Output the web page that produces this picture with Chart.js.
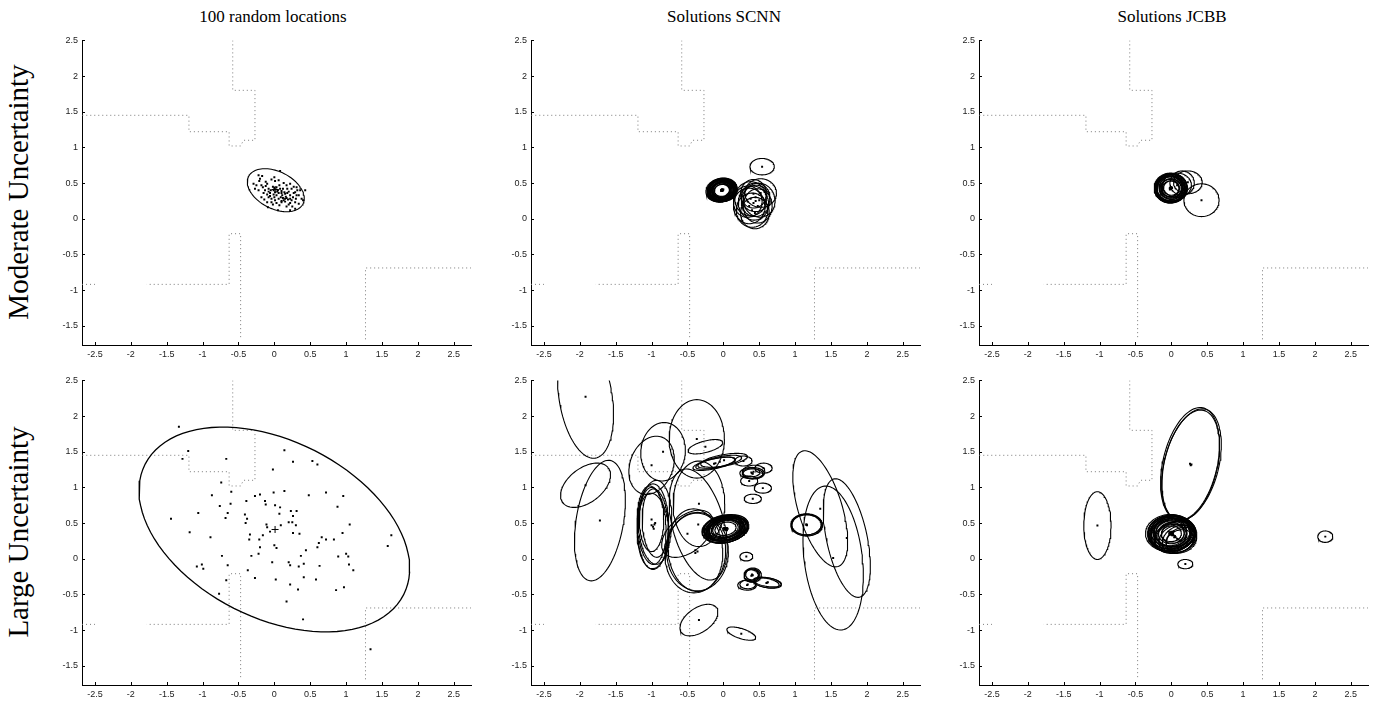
<!DOCTYPE html>
<html>
<head>
<meta charset="utf-8">
<script src="https://cdn.jsdelivr.net/npm/chart.js@4.4.1/dist/chart.umd.min.js"></script>
<style>
  html, body { margin: 0; padding: 0; background: #fff; }
  body { width: 1383px; height: 702px; overflow: hidden; position: relative; }
  canvas.panel { position: absolute; }
  .title { position: absolute; font-family: "Liberation Serif", serif; font-size: 17px; color: #000;
           white-space: nowrap; transform: translate(-50%, -50%); }
  .rowlab { position: absolute; font-family: "Liberation Serif", serif; font-size: 29px; color: #000;
            white-space: nowrap; transform: translate(-50%, -50%) rotate(-90deg); }
</style>
</head>
<body>
<div class="title" style="left:273px; top:17px;">100 random locations</div>
<div class="title" style="left:724px; top:17px;">Solutions SCNN</div>
<div class="title" style="left:1172px; top:17px;">Solutions JCBB</div>
<div class="rowlab" style="left:18px; top:192px;">Moderate Uncertainty</div>
<div class="rowlab" style="left:18px; top:532px;">Large Uncertainty</div>

<canvas class="panel" id="p11"></canvas>
<canvas class="panel" id="p12"></canvas>
<canvas class="panel" id="p13"></canvas>
<canvas class="panel" id="p21"></canvas>
<canvas class="panel" id="p22"></canvas>
<canvas class="panel" id="p23"></canvas>

<script>
// ---- axis ticks ----
const xTicks = [-2.5, -2, -1.5, -1, -0.5, 0, 0.5, 1, 1.5, 2, 2.5];
const yTicks = [-1.5, -1, -0.5, 0, 0.5, 1, 1.5, 2, 2.5];
const xRange = [-2.68, 2.74];
const yRange = [-1.77, 2.5];

// ---- map walls (polylines) ----
const walls = [
  [[-0.58, 2.5], [-0.58, 1.8], [-0.27, 1.8], [-0.27, 1.1], [-0.43, 1.1], [-0.47, 1.02],
   [-0.63, 1.02], [-0.63, 1.22], [-1.19, 1.22], [-1.19, 1.45], [-2.68, 1.45]],
  [[-0.47, -1.66], [-0.47, -0.21], [-0.63, -0.21], [-0.63, -0.92], [-1.78, -0.92]],
  [[-2.68, -0.92], [-2.5, -0.92]],
  [[1.27, -1.69], [1.27, -0.69], [2.74, -0.69]]
];

// ---- true robot location ----
const trueLocation = [0.01, 0.41];

// ---- 100 random locations, moderate uncertainty ----
const moderateSamples = [
  [0.08,0.67],[-0.22,0.61],[-0.17,0.60],[-0.29,0.49],[-0.21,0.53],[-0.18,0.47],[-0.10,0.49],[-0.04,0.55],
  [0.01,0.53],[0.06,0.54],[0.13,0.50],[0.17,0.47],[0.22,0.49],[0.27,0.45],[0.31,0.44],[-0.22,0.40],
  [-0.13,0.40],[-0.08,0.42],[-0.05,0.40],[-0.01,0.40],[0.01,0.37],[0.05,0.40],[0.08,0.42],[0.10,0.39],
  [0.14,0.37],[0.20,0.38],[0.24,0.42],[0.29,0.37],[0.36,0.40],[0.43,0.40],[-0.15,0.36],[-0.10,0.34],
  [-0.06,0.36],[-0.01,0.34],[0.03,0.33],[0.06,0.36],[0.11,0.33],[0.15,0.35],[0.22,0.33],[0.26,0.30],
  [0.31,0.33],[0.38,0.28],[-0.18,0.30],[-0.08,0.30],[-0.04,0.28],[0.01,0.26],[0.06,0.28],[0.13,0.26],
  [0.17,0.29],[0.24,0.26],[0.29,0.23],[-0.10,0.23],[-0.04,0.23],[0.03,0.22],[0.10,0.23],[0.15,0.24],
  [0.22,0.22],[0.34,0.21],[-0.09,0.16],[0.05,0.12],[0.22,0.12],[0.29,0.14],[0.40,0.26],[-0.20,0.56],
  [-0.27,0.42],[-0.02,0.45],[0.03,0.44],[0.07,0.47],[-0.12,0.46],[0.09,0.30],[0.12,0.29],[0.16,0.31],
  [0.19,0.27],[0.00,0.30],[-0.06,0.32],[0.04,0.38],[0.12,0.42],[-0.16,0.44],[0.18,0.42],[0.27,0.36],
  [-0.25,0.47],[-0.12,0.52],[0.00,0.58],[0.10,0.25],[0.20,0.20],[0.25,0.17],[-0.14,0.27],[0.34,0.33],
  [0.30,0.28],[0.07,0.19],[-0.02,0.20],[0.17,0.17],[0.32,0.40],[0.18,0.36],[0.02,0.41],[-0.08,0.38],
  [0.15,0.28],[0.22,0.28],[0.10,0.36],[0.00,0.43]
];
// [cx, cy, semi-axis 1, semi-axis 2, rotation deg]
const moderateCov = [0.02, 0.40, 0.425, 0.26, -27];

// ---- 100 random locations, large uncertainty ----
const largeSamples = [
  [-1.33,1.85],[-1.20,1.51],[-1.28,1.40],[-0.67,1.40],[0.14,1.52],[0.26,1.36],[0.53,1.37],[0.60,1.32],
  [-0.02,1.25],[-0.74,1.07],[-0.60,0.94],[-0.87,0.89],[-0.27,0.88],[-0.20,0.90],[-0.01,0.93],[0.14,0.95],
  [0.48,0.89],[0.72,0.93],[0.96,0.88],[-0.39,0.81],[-0.13,0.81],[-0.12,0.76],[-0.61,0.77],[-0.76,0.74],
  [0.01,0.75],[0.08,0.72],[0.88,0.73],[-1.06,0.64],[-0.65,0.64],[-0.41,0.62],[0.07,0.63],[0.23,0.67],
  [0.31,0.67],[0.26,0.60],[-0.68,0.57],[-0.38,0.56],[-1.44,0.56],[-0.40,0.50],[-0.11,0.48],[-0.10,0.44],
  [0.20,0.51],[0.25,0.51],[0.30,0.47],[1.05,0.48],[-0.06,0.38],[-0.34,0.34],[-0.16,0.33],[0.26,0.36],
  [0.35,0.35],[0.95,0.36],[-1.18,0.37],[-0.89,0.30],[-0.35,0.27],[-0.21,0.27],[0.66,0.30],[0.72,0.27],
  [0.83,0.27],[0.62,0.22],[0.00,0.19],[0.03,0.15],[-0.20,0.16],[0.60,0.16],[0.44,0.12],[1.58,0.18],
  [1.63,0.33],[-0.22,0.07],[-0.32,0.04],[-0.73,0.04],[0.37,0.04],[0.89,0.03],[1.00,0.07],[1.03,0.03],
  [-0.03,-0.05],[0.20,-0.05],[0.22,-0.09],[0.41,-0.07],[0.34,-0.11],[0.63,-0.10],[-0.65,-0.09],[-1.08,-0.11],
  [-1.01,-0.08],[-0.99,-0.14],[1.04,-0.08],[1.10,-0.16],[-0.37,-0.16],[-0.27,-0.27],[0.41,-0.26],[-0.67,-0.30],
  [0.02,-0.29],[0.58,-0.29],[0.22,-0.36],[0.33,-0.43],[0.86,-0.44],[0.97,-0.40],[-0.77,-0.49],[0.17,-0.60],
  [0.40,-0.85],[1.34,-1.27],[0.09,0.47]
];
const largeCov = [0.00, 0.41, 2.02, 1.24, -27];

// ---- SCNN solutions, moderate uncertainty ----
const scnnModerate = [
  [-0.02,0.40,0.21,0.16,10],[-0.02,0.40,0.20,0.155,10],[-0.01,0.40,0.19,0.15,8],[-0.02,0.41,0.18,0.14,10],
  [-0.03,0.40,0.17,0.135,12],[-0.02,0.39,0.16,0.13,10],[-0.01,0.40,0.15,0.12,8],[-0.02,0.40,0.14,0.115,10],
  [-0.02,0.41,0.13,0.105,10],[-0.03,0.40,0.12,0.10,12],[-0.02,0.39,0.115,0.09,10],[-0.01,0.40,0.20,0.16,5],
  [-0.03,0.39,0.20,0.15,15],[0.00,0.41,0.19,0.15,10],[-0.02,0.40,0.175,0.14,6],[-0.02,0.40,0.165,0.125,14],
  [-0.01,0.395,0.155,0.125,10],[-0.02,0.405,0.145,0.11,10],[-0.02,0.40,0.185,0.145,10],[-0.02,0.40,0.125,0.10,6],
  [-0.03,0.40,0.215,0.165,12],[-0.01,0.41,0.205,0.16,8],[-0.02,0.39,0.195,0.15,12],[-0.02,0.40,0.105,0.085,10],
  [0.54,0.73,0.17,0.115,0],
  [0.38,0.28,0.22,0.24,0],[0.42,0.22,0.21,0.24,10],[0.45,0.25,0.20,0.22,-10],[0.36,0.18,0.22,0.25,5],
  [0.48,0.18,0.20,0.24,0],[0.40,0.12,0.22,0.24,0],[0.45,0.30,0.20,0.20,0],[0.50,0.26,0.22,0.24,15],
  [0.34,0.24,0.20,0.22,-5],[0.42,0.35,0.18,0.20,0],[0.44,0.08,0.20,0.22,0],[0.52,0.36,0.22,0.20,0]
];

// ---- JCBB solutions, moderate uncertainty ----
const jcbbModerate = [
  [-0.01,0.43,0.23,0.21,0],[0.00,0.43,0.22,0.20,10],[-0.02,0.42,0.21,0.20,0],[0.00,0.44,0.20,0.19,5],
  [-0.01,0.42,0.19,0.18,0],[-0.02,0.43,0.18,0.17,10],[0.00,0.43,0.17,0.16,0],[-0.01,0.44,0.16,0.15,5],
  [-0.01,0.42,0.15,0.14,0],[0.00,0.43,0.14,0.13,0],[-0.02,0.43,0.13,0.12,5],[-0.01,0.42,0.12,0.11,0],
  [0.01,0.43,0.21,0.19,15],[-0.01,0.43,0.20,0.20,0],[0.00,0.44,0.22,0.19,5],[-0.02,0.41,0.18,0.18,0],
  [-0.01,0.43,0.225,0.205,5],[-0.01,0.425,0.195,0.185,0],[0.00,0.43,0.11,0.10,0],
  [0.08,0.47,0.20,0.17,0],[0.15,0.50,0.17,0.17,0],[0.23,0.51,0.20,0.16,0],[0.42,0.26,0.245,0.23,0]
];

// ---- SCNN solutions, large uncertainty ----
const scnnLarge = [
  [-1.92,2.27,0.37,0.87,9],[-1.92,1.03,0.40,0.24,38],[-1.72,0.535,0.33,0.855,-9.5],
  [-1.00,1.31,0.30,0.42,-20],[-0.84,1.50,0.31,0.41,-5],
  [-0.37,1.68,0.385,0.55,0],[-0.25,1.57,0.25,0.08,15],
  [-0.13,1.33,0.30,0.07,12],[-0.11,1.34,0.28,0.065,12],[0.01,1.38,0.33,0.08,10],[-0.05,1.36,0.31,0.07,11],
  [0.28,1.37,0.12,0.07,0],
  [0.40,1.20,0.17,0.08,0],[0.41,1.19,0.14,0.07,0],[0.39,1.21,0.12,0.06,0],[0.42,1.22,0.16,0.09,5],
  [0.56,1.27,0.12,0.07,0],[0.36,1.09,0.12,0.07,0],[0.55,0.99,0.12,0.07,0],[0.41,0.84,0.12,0.065,0],
  [-1.00,0.47,0.20,0.55,3],[-0.98,0.45,0.22,0.60,0],[-0.95,0.50,0.18,0.48,3],[-0.97,0.42,0.21,0.50,5],
  [-1.00,0.55,0.17,0.45,0],[-0.96,0.48,0.24,0.62,-3],
  [-0.34,0.77,0.36,0.60,0],[-0.39,0.12,0.38,0.58,5],[-0.39,0.08,0.42,0.56,-5],[-0.36,0.10,0.43,0.55,0],
  [-0.50,0.35,0.42,0.25,40],[-0.35,0.48,0.36,0.80,15],
  [0.03,0.42,0.33,0.19,12],[0.04,0.41,0.31,0.18,14],[0.02,0.43,0.30,0.18,10],[0.03,0.42,0.29,0.17,12],
  [0.05,0.40,0.30,0.17,15],[0.01,0.43,0.28,0.17,10],[0.03,0.42,0.27,0.16,12],[0.04,0.41,0.26,0.15,12],
  [0.02,0.42,0.25,0.15,10],[0.03,0.43,0.24,0.14,14],[0.03,0.41,0.23,0.14,12],[0.02,0.42,0.22,0.13,10],
  [0.04,0.42,0.21,0.12,12],[0.03,0.42,0.20,0.12,12],[0.02,0.41,0.32,0.18,8],[0.05,0.43,0.30,0.17,16],
  [0.00,0.40,0.29,0.18,10],[0.06,0.42,0.28,0.16,14],[0.03,0.42,0.18,0.11,12],[0.03,0.42,0.15,0.09,12],
  [-0.34,-0.86,0.30,0.17,35],[0.25,-1.05,0.21,0.07,-18],[0.32,0.03,0.09,0.06,0],
  [0.40,-0.23,0.11,0.09,0],[0.40,-0.22,0.09,0.075,0],[0.39,-0.24,0.10,0.085,0],[0.41,-0.23,0.12,0.10,0],
  [0.33,-0.37,0.13,0.07,0],[0.34,-0.36,0.11,0.06,0],
  [0.61,-0.335,0.20,0.07,-10],[0.60,-0.34,0.18,0.065,-10],[0.62,-0.33,0.19,0.06,-8],
  [1.16,0.475,0.22,0.155,0],[1.165,0.47,0.215,0.15,0],[1.155,0.48,0.21,0.145,0],[1.16,0.475,0.205,0.14,0],
  [1.35,0.70,0.305,0.846,17],[1.53,0.01,0.405,1.016,7],[1.72,0.29,0.283,0.848,12]
];

// ---- JCBB solutions, large uncertainty ----
const jcbbLarge = [
  [-1.03,0.465,0.19,0.475,0],
  [0.26,1.33,0.378,0.806,-13],[0.27,1.31,0.37,0.79,-13],[0.28,1.32,0.38,0.80,-14],
  [0.00,0.36,0.33,0.25,5],[0.02,0.35,0.31,0.24,10],[-0.02,0.37,0.30,0.23,0],[0.03,0.33,0.32,0.22,15],
  [0.00,0.38,0.28,0.22,5],[-0.03,0.35,0.30,0.25,0],[0.05,0.32,0.30,0.20,20],[0.01,0.36,0.26,0.21,8],
  [-0.01,0.34,0.27,0.20,5],[0.02,0.37,0.24,0.19,10],[0.00,0.35,0.22,0.18,5],[0.04,0.30,0.28,0.20,25],
  [0.08,0.28,0.26,0.19,20],[-0.04,0.38,0.25,0.20,0],[0.01,0.33,0.20,0.16,10],[0.00,0.36,0.18,0.15,5],
  [0.02,0.35,0.16,0.13,8],[0.06,0.30,0.30,0.22,15],[0.10,0.27,0.24,0.18,30],[0.00,0.37,0.32,0.24,3],
  [-0.02,0.34,0.29,0.22,12],[0.03,0.38,0.27,0.21,0],[0.12,0.25,0.20,0.15,20],[0.00,0.35,0.14,0.11,5],
  [-0.02,0.36,0.34,0.26,3],[0.01,0.35,0.33,0.24,8],[0.02,0.34,0.31,0.23,12],[0.14,0.26,0.22,0.17,25],
  [0.195,-0.075,0.105,0.065,0],[2.145,0.31,0.105,0.08,0]
];

// ---- drawing helpers ----
function outline(e, n = 96) {
  const [cx, cy, a, b, rot] = e;
  const t = rot * Math.PI / 180, c = Math.cos(t), s = Math.sin(t);
  const pts = [];
  for (let i = 0; i <= n; i++) {
    const ang = 2 * Math.PI * i / n;
    const u = a * Math.cos(ang), v = b * Math.sin(ang);
    pts.push({ x: cx + u * c - v * s, y: cy + u * s + v * c });
  }
  return pts;
}
const toXY = arr => arr.map(p => ({ x: p[0], y: p[1] }));

function wallSets() {
  return walls.map(w => ({
    data: toXY(w), showLine: true, pointRadius: 0, borderColor: '#7a7a7a',
    borderWidth: 1, borderDash: [1, 3], tension: 0, order: 10
  }));
}
function ellipseSets(list, width = 1.1) {
  return list.map(e => ({
    data: outline(e), showLine: true, pointRadius: 0, borderColor: '#000',
    borderWidth: width, tension: 0, order: 5
  }));
}
function dotSet(points) {
  return {
    data: toXY(points), showLine: false, pointRadius: 1.4, pointStyle: 'rect',
    backgroundColor: '#000', borderWidth: 0, order: 1
  };
}
function crossSet(p) {
  return {
    data: toXY([p]), showLine: false, pointRadius: 3.5, pointStyle: 'cross',
    borderColor: '#000', borderWidth: 1, order: 0
  };
}

const inwardTicks = {
  id: 'inwardTicks',
  afterDatasetsDraw(chart) {
    const { ctx, chartArea: a, scales: { x, y } } = chart;
    ctx.save();
    ctx.strokeStyle = '#000';
    ctx.lineWidth = 1;
    ctx.beginPath();
    for (const v of xTicks) {
      const px = Math.round(x.getPixelForValue(v)) + 0.5;
      ctx.moveTo(px, a.bottom); ctx.lineTo(px, a.bottom - 3);
    }
    for (const v of yTicks) {
      const py = Math.round(y.getPixelForValue(v)) + 0.5;
      ctx.moveTo(a.left, py); ctx.lineTo(a.left + 3, py);
    }
    ctx.stroke();
    ctx.restore();
  }
};

const AREA_W = 389, AREA_H = 306, PAD_L = 40, PAD_T = 8, PAD_R = 8, PAD_B = 17;
const colLeft = [82, 531, 979];
const rowTop = [39, 379];

function makePanel(id, col, row, datasets) {
  const cv = document.getElementById(id);
  const w = AREA_W + PAD_L + PAD_R, h = AREA_H + PAD_T + PAD_B;
  cv.width = w; cv.height = h;
  cv.style.width = w + 'px'; cv.style.height = h + 'px';
  cv.style.left = (colLeft[col] - PAD_L) + 'px';
  cv.style.top = (rowTop[row] - PAD_T) + 'px';
  const tickFont = { family: '"Liberation Sans", Arial, sans-serif', size: 9 };
  new Chart(cv, {
    type: 'scatter',
    data: { datasets },
    options: {
      responsive: false, animation: false, events: [],
      layout: { padding: { left: 0, top: PAD_T, right: PAD_R, bottom: 0 } },
      plugins: { legend: { display: false }, tooltip: { enabled: false } },
      scales: {
        x: {
          type: 'linear', min: xRange[0], max: xRange[1],
          grid: { display: false, drawTicks: false },
          border: { display: true, color: '#000', width: 1 },
          ticks: { font: tickFont, color: '#222', padding: 4, maxRotation: 0, autoSkip: false,
                   callback: v => String(v) },
          afterBuildTicks: s => { s.ticks = xTicks.map(v => ({ value: v })); },
          afterFit: s => { s.height = PAD_B; }
        },
        y: {
          type: 'linear', min: yRange[0], max: yRange[1],
          grid: { display: false, drawTicks: false },
          border: { display: true, color: '#000', width: 1 },
          ticks: { font: tickFont, color: '#222', padding: 4, autoSkip: false,
                   callback: v => String(v) },
          afterBuildTicks: s => { s.ticks = yTicks.map(v => ({ value: v })); },
          afterFit: s => { s.width = PAD_L; }
        }
      }
    },
    plugins: [inwardTicks]
  });
}

const centers = list => list.map(e => [e[0], e[1]]);

makePanel('p11', 0, 0, [crossSet(trueLocation), dotSet(moderateSamples), ...ellipseSets([moderateCov]), ...wallSets()]);
makePanel('p21', 0, 1, [crossSet(trueLocation), dotSet(largeSamples), ...ellipseSets([largeCov], 1.3), ...wallSets()]);
makePanel('p12', 1, 0, [dotSet(centers(scnnModerate)), ...ellipseSets(scnnModerate), ...wallSets()]);
makePanel('p22', 1, 1, [dotSet(centers(scnnLarge)), ...ellipseSets(scnnLarge), ...wallSets()]);
makePanel('p13', 2, 0, [dotSet(centers(jcbbModerate)), ...ellipseSets(jcbbModerate), ...wallSets()]);
makePanel('p23', 2, 1, [dotSet(centers(jcbbLarge)), ...ellipseSets(jcbbLarge), ...wallSets()]);
</script>
</body>
</html>
